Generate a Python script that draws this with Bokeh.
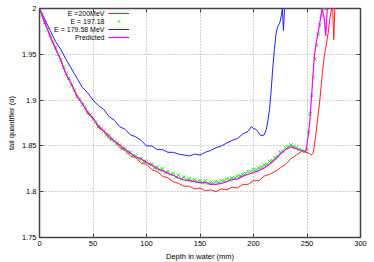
from bokeh.plotting import figure
from bokeh.models import (Range1d, FixedTicker, NumeralTickFormatter, LinearAxis,
                          Legend, LegendItem, Label, CustomJSTickFormatter)
from bokeh.embed import file_html
from bokeh.resources import INLINE

# ---------------- data ----------------
x_ticks = [0, 50, 100, 150, 200, 250, 300]
y_ticks = [1.75, 1.8, 1.85, 1.9, 1.95, 2.0]

series_names = ["E =200MeV", "E = 197.18", "E = 179.58 MeV", "Predicted"]

depth_200 = [0, 5, 10, 15, 20, 25, 30, 35, 40, 45, 50, 55, 60, 65, 70, 75, 80, 85, 90, 95,
             100, 105, 110, 115, 120, 125, 130, 135, 140, 145, 150, 155, 160, 165, 170, 175,
             180, 185, 190, 195, 200, 205, 210, 215, 220, 225, 230, 235, 240, 245,
             249, 252, 254, 256, 258, 260, 262, 264, 266, 268, 270, 271.5, 273, 274, 275, 276, 277.5]
q_200 = [2.000, 1.983, 1.971, 1.955, 1.944, 1.927, 1.918, 1.903, 1.897, 1.885,
         1.881, 1.870, 1.866, 1.858, 1.855, 1.848, 1.845, 1.839, 1.837, 1.831,
         1.830, 1.824, 1.822, 1.817, 1.815, 1.811, 1.809, 1.806, 1.806, 1.803,
         1.804, 1.801, 1.802, 1.800, 1.803, 1.802, 1.805, 1.804, 1.808, 1.808,
         1.812, 1.812, 1.817, 1.819, 1.822, 1.826, 1.830, 1.836, 1.840, 1.844,
         1.843, 1.842, 1.840, 1.843, 1.860, 1.880, 1.900, 1.925, 1.947, 1.960,
         1.975, 1.990, 2.000, 2.000, 1.966, 2.000, 2.000]

depth_197 = [0, 2.5, 5, 7.5, 10, 12.5, 15, 17.5, 20, 22.5, 25, 27.5, 30, 32.5, 35, 37.5,
             40, 42.5, 45, 47.5, 50, 52.5, 55, 57.5, 60, 62.5, 65, 67.5, 70, 72.5, 75, 77.5,
             80, 82.5, 85, 87.5, 90, 92.5, 95, 97.5, 100, 102.5, 105, 107.5, 110, 112.5,
             115, 117.5, 120, 122.5, 125, 127.5, 130, 132.5, 135, 137.5, 140, 142.5, 145,
             147.5, 150, 152.5, 155, 157.5, 160, 162.5, 165, 167.5, 170, 172.5, 175, 177.5,
             180, 182.5, 185, 187.5, 190, 192.5, 195, 197.5, 200, 202.5, 205, 207.5, 210,
             212.5, 215, 217.5, 220, 222.5, 225, 227.5, 230, 232.5, 235, 237.5, 240, 242.5,
             245, 247.5, 250,
             251.5, 253, 254.5, 256, 257.5, 259, 260.5, 262, 263.5, 265, 266.5, 268]
q_197 = [2.000, 1.993, 1.985, 1.977, 1.971, 1.963, 1.958, 1.950, 1.944, 1.936,
         1.929, 1.924, 1.916, 1.911, 1.904, 1.901, 1.895, 1.892, 1.886, 1.884,
         1.879, 1.876, 1.871, 1.869, 1.866, 1.862, 1.861, 1.857, 1.855, 1.853,
         1.851, 1.847, 1.847, 1.843, 1.843, 1.839, 1.839, 1.836, 1.836, 1.833,
         1.833, 1.830, 1.830, 1.826, 1.827, 1.824, 1.825, 1.821, 1.822, 1.819,
         1.820, 1.816, 1.818, 1.814, 1.816, 1.813, 1.814, 1.812, 1.813, 1.811,
         1.812, 1.810, 1.812, 1.809, 1.810, 1.809, 1.811, 1.810, 1.812, 1.812,
         1.814, 1.813, 1.815, 1.815, 1.817, 1.817, 1.819, 1.820, 1.822, 1.822,
         1.824, 1.824, 1.826, 1.827, 1.829, 1.830, 1.833, 1.834, 1.837, 1.839,
         1.843, 1.844, 1.848, 1.849, 1.851, 1.849, 1.848, 1.846, 1.845, 1.844,
         1.846,
         1.865, 1.885, 1.905, 1.925, 1.945, 1.960, 1.972, 1.982, 1.992, 2.000, 2.000, 2.000]

depth_179 = [0, 5, 10, 15, 20, 25, 30, 35, 40, 45, 50, 55, 60, 65, 70, 75, 80, 85, 90, 95,
             100, 105, 110, 115, 120, 125, 130, 135, 140, 145, 150, 155, 160, 165, 170, 175,
             180, 185, 190, 195, 198, 200, 202.5, 205, 207, 210, 212, 213.5, 215, 216.5,
             218, 219.5, 221, 222.5, 224.5, 226, 227, 228, 229]
q_179 = [2.000, 1.988, 1.976, 1.964, 1.955, 1.944, 1.934, 1.924, 1.914, 1.908,
         1.900, 1.894, 1.890, 1.882, 1.878, 1.871, 1.868, 1.862, 1.860, 1.856,
         1.850, 1.850, 1.846, 1.846, 1.843, 1.843, 1.841, 1.840, 1.839, 1.841,
         1.840, 1.843, 1.845, 1.848, 1.850, 1.853, 1.856, 1.858, 1.863, 1.866,
         1.871, 1.869, 1.868, 1.864, 1.861, 1.862, 1.868, 1.878, 1.890, 1.910,
         1.935, 1.955, 1.972, 1.980, 1.984, 1.992, 2.000, 1.976, 2.000]

depth_pred = [0, 5, 10, 15, 20, 25, 30, 35, 40, 45, 50, 55, 60, 65, 70, 75, 80, 85, 90, 95,
              100, 105, 110, 115, 120, 125, 130, 135, 140, 145, 150, 155, 160, 165, 170, 175,
              180, 185, 190, 195, 200, 205, 210, 215, 220, 225, 230, 235, 240, 245,
              249, 251, 252.5, 254, 255.5, 257, 259, 261, 262.5, 264, 266, 267.5, 269, 276]
q_pred = [2.000, 1.985, 1.969, 1.957, 1.943, 1.928, 1.917, 1.905, 1.896, 1.887,
          1.880, 1.872, 1.866, 1.861, 1.855, 1.851, 1.846, 1.842, 1.838, 1.836,
          1.832, 1.829, 1.825, 1.823, 1.820, 1.818, 1.815, 1.813, 1.812, 1.811,
          1.810, 1.810, 1.808, 1.808, 1.809, 1.811, 1.813, 1.814, 1.817, 1.819,
          1.821, 1.823, 1.826, 1.830, 1.835, 1.841, 1.846, 1.849, 1.847, 1.845,
          1.844, 1.860, 1.875, 1.900, 1.925, 1.950, 1.965, 1.978, 1.988, 2.000,
          1.990, 1.970, 2.000, 2.000]

# ---------------- figure ----------------
FONT = "Liberation Sans"
FS = "7.5px"
FRAME_W, FRAME_H = 321, 229
X0, X1, Y0, Y1 = 0, 300, 1.75, 2.0

p = figure(frame_width=FRAME_W, frame_height=FRAME_H,
           x_range=Range1d(X0, X1), y_range=Range1d(Y0, Y1),
           output_backend="svg", toolbar_location=None,
           min_border_left=39, min_border_right=12, min_border_top=8, min_border_bottom=23)
p.background_fill_color = "white"
p.border_fill_color = "white"
p.outline_line_color = "#444444"
p.outline_line_width = 1.5

p.xaxis.ticker = FixedTicker(ticks=x_ticks)
p.yaxis.ticker = FixedTicker(ticks=y_ticks)
p.yaxis.formatter = NumeralTickFormatter(format="0.[00]")
p.xaxis.axis_label = "Depth in water (mm)"
p.yaxis.axis_label = "tail quantifier (\u03b1)"

for ax in [p.xaxis[0], p.yaxis[0]]:
    ax.axis_line_color = None
    ax.major_tick_in = 4
    ax.major_tick_out = 0
    ax.minor_tick_line_color = None
    ax.major_tick_line_color = "#444444"
    ax.major_label_text_font = FONT
    ax.major_label_text_font_size = FS
    ax.major_label_text_color = "black"
    ax.axis_label_text_font = FONT
    ax.axis_label_text_font_size = FS
    ax.axis_label_text_font_style = "normal"
    ax.axis_label_text_color = "black"
    ax.major_label_standoff = 3
    ax.axis_label_standoff = 3

# mirrored ticks on top and right (empty labels)
for loc, tick in [("above", x_ticks), ("right", y_ticks)]:
    ax2 = LinearAxis(ticker=FixedTicker(ticks=tick),
                     formatter=CustomJSTickFormatter(code="return ''"))
    ax2.axis_line_color = None
    ax2.major_tick_in = 4
    ax2.major_tick_out = 0
    ax2.minor_tick_line_color = None
    ax2.major_tick_line_color = "#444444"
    ax2.major_label_text_font_size = "1px"
    ax2.major_label_standoff = 0
    p.add_layout(ax2, loc)

p.grid.grid_line_color = "#a0a0a0"
p.grid.grid_line_dash = "1 2"
p.grid.grid_line_width = 1
p.xgrid.ticker = FixedTicker(ticks=x_ticks)
p.ygrid.ticker = FixedTicker(ticks=y_ticks)

r_200 = p.line(depth_200, q_200, line_color="#ff2020", line_width=1)
r_197 = p.scatter(depth_197, q_197, marker="x", size=5, line_color="#22e622", line_width=1)
r_179 = p.line(depth_179, q_179, line_color="#2020ff", line_width=1)
r_pred = p.line(depth_pred, q_pred, line_color="#ff00ff", line_width=1.2)

renderers = [r_200, r_197, r_179, r_pred]

# gnuplot-style key: samples via a Legend, texts right-aligned to their left
GLYPH_W, ROW_H, LEG_X = 21, 8, 69
legend = Legend(items=[LegendItem(label="", renderers=[r]) for r in renderers],
                location=(LEG_X, FRAME_H - 1 - 4 * ROW_H), orientation="vertical",
                glyph_width=GLYPH_W, glyph_height=ROW_H, spacing=0, padding=0, margin=0,
                label_width=0, label_height=ROW_H, label_standoff=0,
                label_text_font_size="1px",
                border_line_alpha=0, background_fill_alpha=0)
p.add_layout(legend, "center")

for i, name in enumerate(series_names):
    off = 1 + ROW_H * i + ROW_H / 2.0
    p.add_layout(Label(x=X0 + (LEG_X - 4) / FRAME_W * (X1 - X0),
                       y=Y1 - off / FRAME_H * (Y1 - Y0),
                       text=name, text_align="right", text_baseline="middle",
                       text_font=FONT, text_font_size="7px", text_color="black"))

open("out.html", "w").write(file_html(p, INLINE))
